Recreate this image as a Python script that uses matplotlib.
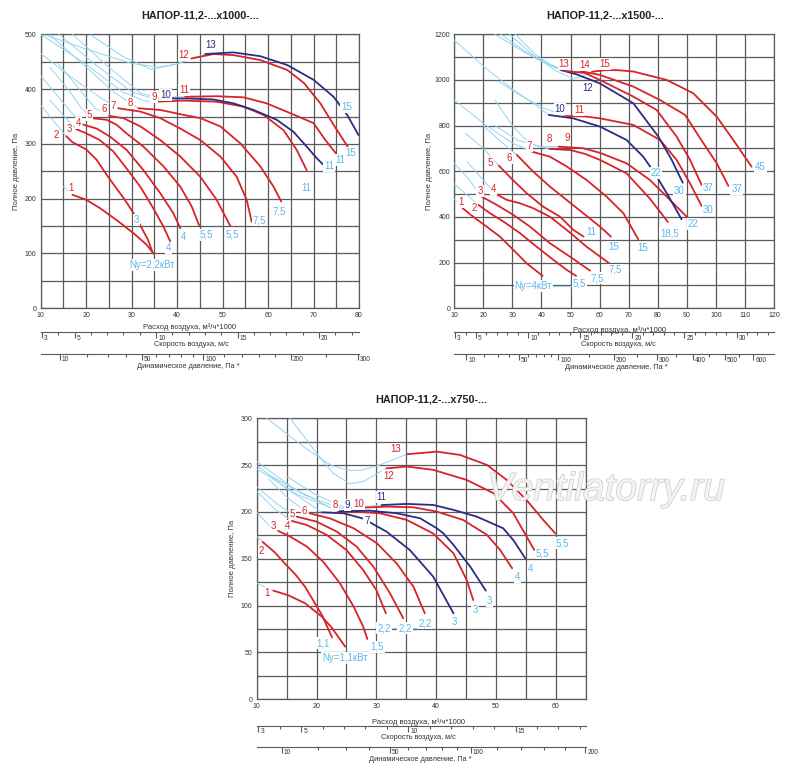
import numpy as np
import matplotlib.pyplot as plt
import matplotlib.patheffects as pe
from matplotlib.transforms import ScaledTranslation

RED = "#d8232a"
DARK_BLUE = "#2b2d84"
LIGHT_BLUE = "#93d4f0"
LABEL_BLUE = "#5db7e8"
GRID = "#5a5a5a"
NARROW = ["Liberation Sans Narrow", "Liberation Sans", "DejaVu Sans"]

# flow (m3/h*1000) per 1 m/s of outlet velocity
Q_PER_MS = 3.59
Q_SHIFT = -0.5

# ---------------- НАПОР-11,2-...x1000 ----------------
tl_title = "НАПОР-11,2-...x1000-..."
tl_curves = {
    "1": [(17, 207), (20, 198), (23, 183), (26.7, 161), (30.4, 137), (33.3, 116), (34.8, 100)],
    "2": [(15.6, 314), (17, 303), (20, 290), (22.3, 271), (24.8, 240), (28.5, 198), (30.7, 170), (33.6, 125), (34.7, 100)],
    "3": [(17.8, 327), (20.1, 319), (23, 307), (26, 286), (28.9, 255), (31.9, 222), (34.8, 182), (37, 149), (38.5, 122)],
    "4": [(19.4, 335), (22.3, 328), (25.3, 313), (28.9, 289), (32.6, 252), (36.3, 210), (39.2, 173), (40.7, 146)],
    "5": [(21.2, 347), (24.5, 344), (26.7, 335), (28.9, 319), (32.6, 295), (37, 259), (40.7, 222), (43.2, 186), (44.9, 150)],
    "6": [(25.1, 351), (28.2, 347), (31.9, 332), (36.3, 307), (40.7, 277), (45.1, 240), (48.7, 198), (51.7, 150)],
    "7": [(27.1, 365), (31.9, 359), (36.3, 347), (40.7, 328), (45.1, 307), (49.5, 277), (53.1, 240), (55.3, 198), (56.4, 158)],
    "8": [(31.5, 365), (36.3, 362), (41.4, 353), (45.1, 347), (49.5, 332), (53.9, 301), (58.3, 259), (61.2, 222), (62.9, 195)],
    "9": [(35.3, 377), (41.4, 379), (48.7, 377), (54.6, 368), (59, 353), (63.4, 325), (66.3, 289), (68.5, 252)],
    "10": [(38.7, 383), (42.1, 383), (48, 381), (52.4, 374), (56.8, 362), (61.9, 344), (65.6, 322), (68.5, 295), (70.7, 274), (72.4, 260)],
    "11": [(41.8, 386), (48.7, 387), (54.6, 385), (59.7, 374), (64.9, 356), (70, 338), (72.6, 307), (75, 282)],
    "12": [(43.2, 456), (48, 464), (52.4, 462), (58.3, 453), (64.2, 435), (67.9, 411), (71.5, 374), (74.4, 335), (77.5, 295)],
    "13": [(46.2, 464), (52.4, 467), (58.3, 460), (64.2, 444), (70, 417), (74.4, 386), (77.4, 353), (79.9, 316)],
}
tl_blue = ["10", "13"]
tl_unstable = [
    [(15, 222), (17, 207)],
    [(10, 371), (13, 340), (15.6, 314)],
    [(12, 380), (15, 352), (17.8, 327)],
    [(10, 424), (14, 385), (17, 355), (19.4, 335)],
    [(12, 440), (16, 400), (19, 365), (21.2, 347)],
    [(14, 445), (19, 395), (22, 365), (25.1, 351)],
    [(10, 465), (17, 420), (23, 385), (27.1, 365)],
    [(12, 499), (20, 440), (26, 395), (31.5, 365)],
    [(10, 500), (20, 445), (28, 395), (33, 378), (35.3, 377)],
    [(14, 500), (22, 445), (30, 395), (35, 382), (38.7, 383)],
    [(17, 500), (25, 440), (32, 392), (36, 385), (41.8, 386)],
    [(10.9, 499), (20.4, 472), (29.9, 447), (36, 440), (40, 446), (43.2, 456)],
    [(21, 499), (28, 460), (34.3, 436), (40, 446), (46.2, 464)],
]
tl_names = {
    "1": (16.7, 219), "2": (13.4, 316), "3": (16.2, 328), "4": (18.3, 339), "5": (20.7, 353),
    "6": (23.9, 363), "7": (26, 369), "8": (29.8, 374), "9": (34.9, 386), "10": (37.4, 389),
    "11": (41.5, 398), "12": (41.5, 462), "13": (47.3, 481),
}
tl_power = [
    ("3", 31, 161), ("4", 38.1, 110), ("4", 41.3, 130), ("5,5", 46.5, 134), ("5,5", 52.2, 134),
    ("7,5", 58.1, 161), ("7,5", 62.5, 176), ("11", 68.5, 219), ("11", 73.5, 260), ("11", 75.9, 270),
    ("15", 78.2, 283), ("15", 77.3, 368), ("Ny=2,2кВт", 34.4, 79),
]
tl_power_lines = []
tl_v_major = [3, 5, 10, 15, 20]
tl_v_minor = list(range(3, 23))
tl_pd_major = [10, 50, 100, 200, 300]
tl_pd_minor = [20, 30, 40, 60, 70, 80, 90, 120, 140, 160, 180, 250]

# ---------------- НАПОР-11,2-...x1500 ----------------
tr_title = "НАПОР-11,2-...x1500-..."
tr_curves = {
    "1": [(12.9, 438), (16.5, 401), (21.1, 358), (25.7, 314), (30.3, 256), (34.9, 197), (40.4, 142)],
    "2": [(18.3, 453), (22.3, 416), (26.9, 380), (32.6, 329), (38.3, 270), (44.1, 212), (48.7, 168), (51.9, 142)],
    "3": [(19.4, 489), (24.6, 453), (30.3, 409), (36, 358), (42.9, 285), (49.8, 226), (56.7, 165)],
    "4": [(24, 504), (28, 475), (32.6, 460), (37.2, 438), (42.9, 401), (48.7, 343), (55.5, 270), (63.3, 197)],
    "5": [(25.3, 625), (30.3, 560), (34.9, 504), (40.6, 445), (46.4, 401), (51, 343), (54.5, 314)],
    "6": [(31.5, 672), (37.2, 598), (42.9, 533), (48.7, 474), (54.4, 416), (60.1, 358), (63.9, 314)],
    "7": [(36.7, 686), (42.9, 664), (48.7, 621), (55.5, 562), (62.4, 489), (68.2, 416), (73.3, 302)],
    "8": [(42.7, 698), (50, 693), (55, 676), (60.1, 650), (69.3, 591), (77.3, 480), (83.5, 378)],
    "9": [(45.9, 708), (54.4, 701), (60.1, 681), (69.3, 635), (77.3, 562), (83.1, 489), (90.2, 398)],
    "10": [(42.5, 847), (50.9, 832), (60.1, 796), (69.3, 737), (75, 664), (79, 591), (83.1, 504), (88.2, 390)],
    "11": [(48.2, 842), (55, 840), (60.1, 832), (71.6, 803), (80.8, 737), (86.5, 650), (91.1, 547), (95.1, 448)],
    "12": [(46.5, 1044), (52, 1025), (60.1, 985), (71.6, 898), (80.2, 752), (84.8, 650), (88.6, 550)],
    "13": [(48, 1040), (55, 1030), (60.1, 1000), (71.6, 927), (79.6, 869), (86.5, 752), (91.1, 650), (95.1, 540)],
    "14": [(53, 1040), (60.1, 1022), (71.6, 971), (80.8, 912), (89.4, 847), (95.7, 723), (100.3, 635), (104.3, 536)],
    "15": [(57.4, 1036), (62, 1043), (66, 1043), (71.6, 1037), (83.1, 1000), (92.2, 942), (100.3, 839), (106, 737), (112.3, 620)],
}
tr_blue = ["10", "12"]
tr_unstable = [
    [(10, 480), (12.9, 438)],
    [(10, 545), (14, 500), (18.3, 453)],
    [(10, 635), (15, 565), (19.4, 489)],
    [(14.4, 642), (19, 575), (24, 504)],
    [(13.8, 767), (20, 700), (25.3, 625)],
    [(20, 800), (26, 730), (31.5, 672)],
    [(10, 912), (20, 810), (30, 723), (36.7, 686)],
    [(24, 912), (30, 800), (36, 720), (42.7, 698)],
    [(24, 800), (32, 735), (40, 708), (45.9, 708)],
    [(10, 1175), (20, 1060), (30, 960), (38, 890), (42.5, 847)],
    [(25, 995), (33, 930), (41, 876), (48.2, 842)],
    [(24, 1200), (33, 1130), (40, 1080), (46.5, 1044)],
    [(26, 1200), (35, 1120), (42, 1075), (48, 1040)],
    [(29, 1200), (37, 1110), (45, 1040), (51, 1005), (54, 1015), (57.4, 1036)],
    [(31, 1200), (38, 1110), (44, 1060), (50, 1030), (53, 1040)],
]
tr_names = {
    "1": (12.3, 467), "2": (16.8, 438), "3": (18.8, 515), "4": (23.4, 521), "5": (22.5, 635),
    "6": (28.9, 657), "7": (35.8, 712), "8": (42.7, 740), "9": (48.7, 745), "10": (46.4, 873),
    "11": (52.9, 869), "12": (55.8, 964), "13": (47.7, 1070), "14": (54.7, 1066), "15": (61.8, 1070),
}
tr_power = [
    ("Ny=4кВт", 37.2, 97), ("5,5", 53, 110), ("7,5", 59, 131), ("7,5", 65.3, 168), ("11", 57, 333),
    ("15", 64.7, 267), ("15", 74.8, 263), ("18,5", 84, 328), ("22", 92.2, 369), ("30", 97.4, 431),
    ("22", 79.4, 591), ("30", 87.4, 515), ("37", 97.4, 526), ("37", 107.2, 523), ("45", 115.4, 620),
]
tr_power_lines = [[(43.5, 98), (51, 98)]]
tr_v_major = [3, 5, 10, 15, 20, 25, 30]
tr_v_minor = list(range(3, 34))
tr_pd_major = [10, 50, 100, 200, 300, 400, 500, 600]
tr_pd_minor = [20, 30, 40, 60, 70, 80, 90, 150, 250, 350, 450, 550]

# ---------------- НАПОР-11,2-...x750 ----------------
b_title = "НАПОР-11,2-...x750-..."
b_curves = {
    "1": [(12.8, 116), (15.3, 111), (18.1, 102.5), (20.9, 88.2), (22.5, 76.9), (24.8, 56.2)],
    "2": [(11, 168), (13, 157), (14.7, 145), (16.5, 133), (18.1, 120), (20.9, 90), (22.6, 66)],
    "3": [(13.6, 179.7), (15.6, 173.7), (18.4, 163), (21.1, 147), (23.9, 124), (26.2, 99), (27.8, 77.6), (28.5, 64.4)],
    "4": [(15.9, 190.4), (18.4, 186), (21.7, 175.5), (25, 159.4), (27.8, 138), (30, 116.7), (31.6, 91.8)],
    "5": [(16.7, 195), (20, 189.7), (23.4, 179), (26.7, 163), (29.5, 141.6), (32.3, 113), (34.5, 86.5)],
    "6": [(18.9, 198.5), (22.3, 193), (26.2, 182.6), (30.1, 166.6), (33.4, 145), (36.2, 120.3), (38.1, 91.8)],
    "7": [(20.9, 199.6), (24.5, 198.6), (27.8, 193), (31.7, 179), (35.6, 159.4), (39.5, 131), (42.9, 91.8)],
    "8": [(23.6, 200.3), (26.2, 200.4), (30.6, 198.6), (35.1, 191.5), (39.5, 177), (42.9, 155.9), (45.1, 127.4), (46.2, 106)],
    "9": [(23.9, 200.8), (28.9, 201.4), (33.4, 198.6), (37.3, 193.3), (40.1, 182.6), (41.2, 177.2), (42.9, 164.8), (45.7, 141.6), (48.3, 116)],
    "10": [(27.6, 204.6), (31.7, 205.7), (36.2, 205), (40.1, 200.4), (44.5, 191.5), (48.5, 175.5), (50.7, 159.4), (52.7, 139.9)],
    "11": [(30.9, 207.4), (35.1, 208.6), (39.5, 207.5), (42.9, 202.2), (46.8, 195), (51.2, 182.6), (52.9, 170), (54.9, 150.5)],
    "12": [(31.7, 246.6), (35.1, 248.5), (39.5, 245), (45.1, 234.2), (49.6, 220), (52.9, 198.6), (56.4, 159.4)],
    "13": [(35.1, 261.6), (40.1, 264.4), (44, 260.9), (48.5, 250.2), (51.8, 234.2), (55.1, 212.8), (57.9, 191.5), (59.9, 177.2)],
}
b_blue = ["7", "9", "11"]
b_unstable = [
    [(10, 124), (12.8, 116)],
    [(10, 174), (11, 168)],
    [(10, 200), (12, 186), (13.6, 179.7)],
    [(10, 222), (13, 203), (15.9, 190.4)],
    [(10, 227), (13.5, 208), (16.7, 195)],
    [(12, 235), (15.5, 213), (18.9, 198.5)],
    [(10, 250), (15, 225), (20.9, 199.6)],
    [(10, 254), (16, 226), (23.6, 200.3)],
    [(10, 246), (17, 218), (23.9, 200.8)],
    [(12, 240), (18, 218), (24, 204), (27.6, 204.6)],
    [(15, 238), (20, 218), (25, 204), (30.9, 207.4)],
    [(11.7, 300), (17.8, 269.8), (22.3, 250.2), (25, 244.9), (27.3, 244.2), (30.6, 250.2), (35.1, 261.6)],
    [(15.6, 300), (20, 262.7), (22.8, 241.3), (25.6, 230), (27.8, 232.4), (31.7, 246.6)],
]
b_names = {
    "1": (11.7, 113), "2": (10.8, 158), "3": (12.8, 185), "4": (15.1, 185), "5": (16, 198),
    "6": (18, 201), "7": (28.4, 190), "8": (23.1, 207), "9": (25.2, 207), "10": (27, 209),
    "11": (30.9, 216), "12": (32, 238), "13": (33.3, 267),
}
b_power = [
    ("Ny=1,1кВт", 24.8, 44), ("1,1", 21.1, 60), ("1,5", 30.1, 56), ("2,2", 31.3, 76), ("2,2", 34.8, 76),
    ("2,2", 38.1, 81), ("3", 43, 83), ("3", 46.5, 95), ("3", 48.9, 105), ("4", 53.6, 131),
    ("4", 55.8, 139), ("5,5", 57.8, 156), ("5,5", 61, 166.5),
]
b_power_lines = [[(31.3, 76), (38.1, 76)]]
b_v_major = [3, 5, 10, 15]
b_v_minor = list(range(3, 19))
b_pd_major = [10, 50, 100, 200]
b_pd_minor = [20, 30, 40, 60, 70, 80, 90, 120, 140, 160, 180]


def v_to_q(v):
    return Q_PER_MS * np.asarray(v, dtype=float) + Q_SHIFT


def pd_to_q(pd):
    return v_to_q(np.sqrt(np.asarray(pd, dtype=float) / 0.6))


def scale_axis(fig, left, width, y, xlim, q_major, labels, q_minor):
    ax = fig.add_axes([left, y, width, 0.0001])
    for s in ["top", "left", "right"]:
        ax.spines[s].set_visible(False)
    ax.spines["bottom"].set_color(GRID)
    ax.spines["bottom"].set_linewidth(0.8)
    ax.set_xlim(xlim)
    ax.set_yticks([])
    ax.set_xticks(q_major)
    ax.set_xticklabels(labels, ha="left")
    ax.set_xticks(q_minor, minor=True)
    # ticks hang below the line, labels sit just right of the long ticks
    ax.tick_params(axis="x", which="major", direction="out", length=4, width=0.8,
                   color=GRID, labelsize=4.8, pad=-2.2, labelcolor="#333333")
    ax.tick_params(axis="x", which="minor", direction="out", length=2.2, width=0.8, color=GRID)
    shift = ScaledTranslation(1.5 / 72, 0, fig.dpi_scale_trans)
    for t in ax.get_xticklabels():
        t.set_family(NARROW)
        t.set_transform(t.get_transform() + shift)
    return ax


def draw_panel(fig, px, title, title_px, xlim, ylim, xstep, ystep, xlab_step, ylab_step,
               curves, blue, unstable, names, power, power_lines,
               v_major, v_minor, pd_major, pd_minor, v_line, pd_line, label_off, text_dx):
    W, H = 800.0, 782.0
    l, r, t, b = px
    ax = fig.add_axes([l / W, 1 - b / H, (r - l) / W, (b - t) / H])
    ax.set_xlim(xlim)
    ax.set_ylim(ylim)
    ax.set_xticks(np.arange(xlim[0], xlim[1] + 0.01, xstep))
    ax.set_yticks(np.arange(ylim[0], ylim[1] + 0.01, ystep))
    ax.set_xticklabels([f"{v:g}" if (v - xlim[0]) % xlab_step == 0 else "" for v in ax.get_xticks()])
    ax.set_yticklabels([f"{v:g}" if v % ylab_step == 0 else "" for v in ax.get_yticks()])
    ax.grid(True, color=GRID, lw=0.9)
    ax.tick_params(length=0, labelsize=5, labelcolor="#333333", pad=3)
    for s in ax.spines.values():
        s.set_color(GRID)
        s.set_linewidth(0.9)
    ax.set_axisbelow(True)

    for pts in unstable:
        xs, ys = zip(*pts)
        ax.plot(xs, ys, color=LIGHT_BLUE, lw=0.7, zorder=3)
    for pts in power_lines:
        xs, ys = zip(*pts)
        ax.plot(xs, ys, color=LIGHT_BLUE, lw=0.8, zorder=3)
    for name, pts in curves.items():
        xs, ys = zip(*pts)
        ax.plot(xs, ys, color=DARK_BLUE if name in blue else RED, lw=1.3,
                solid_capstyle="round", zorder=4)
    box = dict(boxstyle="square,pad=0.1", fc="white", ec="none")
    for name, (x, y) in names.items():
        ax.text(x, y, name, color=DARK_BLUE if name in blue else RED, fontsize=7,
                family=NARROW, ha="center", va="center", bbox=box, zorder=5)
    for txt, x, y in power:
        ax.text(x, y, txt, color=LABEL_BLUE, fontsize=7, family=NARROW,
                ha="center", va="center", bbox=box, zorder=5)

    ax.set_xlabel("Расход воздуха, м³/ч*1000", fontsize=5.5, family=NARROW, color="#333333")
    ax.xaxis.set_label_coords(label_off[0], label_off[1])
    ax.set_ylabel("Полное давление, Па", fontsize=5.5, family=NARROW, color="#333333")
    ax.yaxis.set_label_coords(label_off[2], 0.5)
    for t_ in ax.get_xticklabels() + ax.get_yticklabels():
        t_.set_family(NARROW)

    fig.text(title_px[0] / W, 1 - title_px[1] / H, title, fontsize=7.8, weight="bold",
             family=NARROW, ha="center", va="center", color="#222222")

    sx = (xlim[0], xlim[1] + 0.1)
    scale_axis(fig, l / W, (r - l) / W, 1 - v_line / H, sx, v_to_q(v_major),
               [str(v) for v in v_major], v_to_q(v_minor))
    scale_axis(fig, l / W, (r - l) / W, 1 - pd_line / H, sx, pd_to_q(pd_major),
               [str(v) for v in pd_major], pd_to_q(pd_minor))
    cx = (l + r) / 2
    fig.text((cx + text_dx[0]) / W, 1 - (v_line + 12) / H, "Скорость воздуха, м/с", fontsize=5.3,
             family=NARROW, ha="center", va="center", color="#333333")
    fig.text((cx + text_dx[1]) / W, 1 - (pd_line + 13) / H, "Динамическое давление, Па *", fontsize=5.3,
             family=NARROW, ha="center", va="center", color="#333333")
    return ax


fig = plt.figure(figsize=(8, 7.82), dpi=100)

draw_panel(fig, (40.7, 359, 34.3, 308.3), tl_title, (200, 15), (10, 80), (0, 500), 5, 50, 10, 100,
           tl_curves, tl_blue, tl_unstable, tl_names, tl_power, tl_power_lines,
           tl_v_major, tl_v_minor, tl_pd_major, tl_pd_minor, 332.3, 353.7,
           (0.466, -0.054, -0.065), (-8, -12))
draw_panel(fig, (454.3, 774, 34.3, 308.3), tr_title, (605, 15), (10, 120), (0, 1200), 10, 100, 10, 200,
           tr_curves, tr_blue, tr_unstable, tr_names, tr_power, tr_power_lines,
           tr_v_major, tr_v_minor, tr_pd_major, tr_pd_minor, 332.3, 354.3,
           (0.518, -0.067, -0.066), (4, 2))
draw_panel(fig, (256.7, 585.7, 418.3, 699.3), b_title, (431, 400), (10, 65), (0, 300), 5, 25, 10, 50,
           b_curves, b_blue, b_unstable, b_names, b_power, b_power_lines,
           b_v_major, b_v_minor, b_pd_major, b_pd_minor, 725.7, 746.7,
           (0.491, -0.068, -0.063), (-3, -1))

wm = fig.text(606 / 800, 1 - 490 / 782, "Ventilatorry.ru", fontsize=28, style="italic",
              family=["Liberation Sans", "DejaVu Sans"], color="#f3f3f3",
              ha="center", va="center", zorder=10)
wm.set_path_effects([pe.Stroke(linewidth=1.0, foreground="#cacaca"), pe.Normal()])

fig.savefig("out.png", dpi=100, facecolor="white")
